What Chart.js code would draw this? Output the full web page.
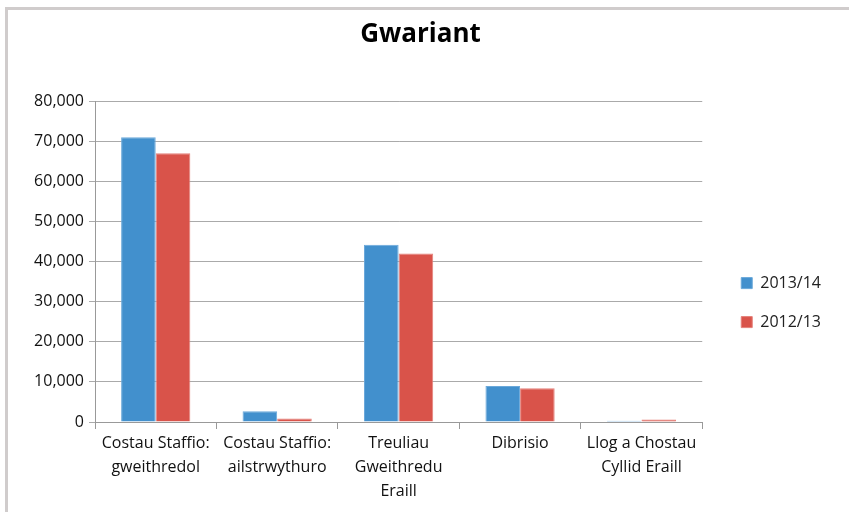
<!DOCTYPE html>
<html lang="cy">
<head>
  <meta charset="UTF-8">
  <title>Gwariant</title>
  <script src="https://cdn.jsdelivr.net/npm/chart.js"></script>
  <style>
    html, body {
      margin: 0;
      padding: 0;
      background: #fff;
    }
    #frame {
      position: absolute;
      left: 5px;
      top: 7px;
      width: 850px;
      height: 520px;
      border-left: 3px solid #d0cccc;
      border-top: 3px solid #d0cccc;
      box-sizing: border-box;
    }
    #wrap {
      position: absolute;
      left: 0;
      top: 0;
      width: 849px;
      height: 512px;
    }
  </style>
</head>
<body>
  <div id="frame"></div>
  <div id="wrap"><canvas id="grafico"></canvas></div>

  <script>
    const categorias = [
      ['Costau Staffio:', 'gweithredol'],
      ['Costau Staffio:', 'ailstrwythuro'],
      ['Treuliau', 'Gweithredu', 'Eraill'],
      ['Dibrisio'],
      ['Llog a Chostau', 'Cyllid Eraill']
    ];
    const anos = ['2013/14', '2012/13'];
    const valores2013 = [71000, 2700, 44200, 9000, 300];
    const valores2012 = [67000, 900, 42000, 8400, 600];
    const ticksY = [0, 10000, 20000, 30000, 40000, 50000, 60000, 70000, 80000];

    const fonte = "'Open Sans', sans-serif";

    const ctx = document.getElementById('grafico').getContext('2d');
    new Chart(ctx, {
      type: 'bar',
      data: {
        labels: categorias,
        datasets: [
          {
            label: anos[0],
            data: valores2013,
            backgroundColor: '#4290cd',
            borderColor: '#6aa8da',
            borderWidth: 1
          },
          {
            label: anos[1],
            data: valores2012,
            backgroundColor: '#d9534a',
            borderColor: '#e5807a',
            borderWidth: 1
          }
        ]
      },
      options: {
        responsive: true,
        maintainAspectRatio: false,
        animation: false,
        devicePixelRatio: 1,
        layout: {
          padding: { left: 10, right: 18, top: 19, bottom: 7 }
        },
        datasets: {
          bar: { categoryPercentage: 0.57, barPercentage: 1.0 }
        },
        plugins: {
          title: {
            display: true,
            text: 'Gwariant',
            color: '#000',
            font: { family: fonte, size: 26, weight: 'bold' },
            padding: { top: 0, bottom: 51 }
          },
          legend: {
            position: 'right',
            // título vazio só para empurrar a legenda para baixo
            title: {
              display: true,
              text: ' ',
              font: { family: fonte, size: 16 },
              padding: 31
            },
            labels: {
              boxWidth: 11,
              boxHeight: 11,
              padding: 23,
              color: '#222',
              font: { family: fonte, size: 16 }
            }
          },
          tooltip: { enabled: false }
        },
        scales: {
          x: {
            grid: {
              drawOnChartArea: false,
              drawTicks: true,
              tickLength: 7,
              offset: true,
              color: '#999'
            },
            border: { color: '#999', width: 1 },
            ticks: {
              color: '#111',
              font: { family: fonte, size: 16, lineHeight: 1.5 },
              padding: 2,
              maxRotation: 0
            }
          },
          y: {
            min: 0,
            max: 80000,
            afterBuildTicks: (scale) => {
              scale.ticks = ticksY.map((v) => ({ value: v }));
            },
            afterFit: (scale) => {
              scale.width = 85;
            },
            grid: {
              color: '#aaa',
              tickLength: 6
            },
            border: { color: '#999' },
            ticks: {
              color: '#111',
              font: { family: fonte, size: 16 },
              padding: 5,
              callback: (v) => v.toLocaleString('en-US')
            }
          },
          // espaço vazio entre a área do gráfico e a legenda
          yVazio: {
            position: 'right',
            grid: { display: false },
            border: { display: false },
            ticks: { display: false },
            afterFit: (scale) => {
              scale.width = 16;
            }
          }
        }
      }
    });
  </script>
</body>
</html>
